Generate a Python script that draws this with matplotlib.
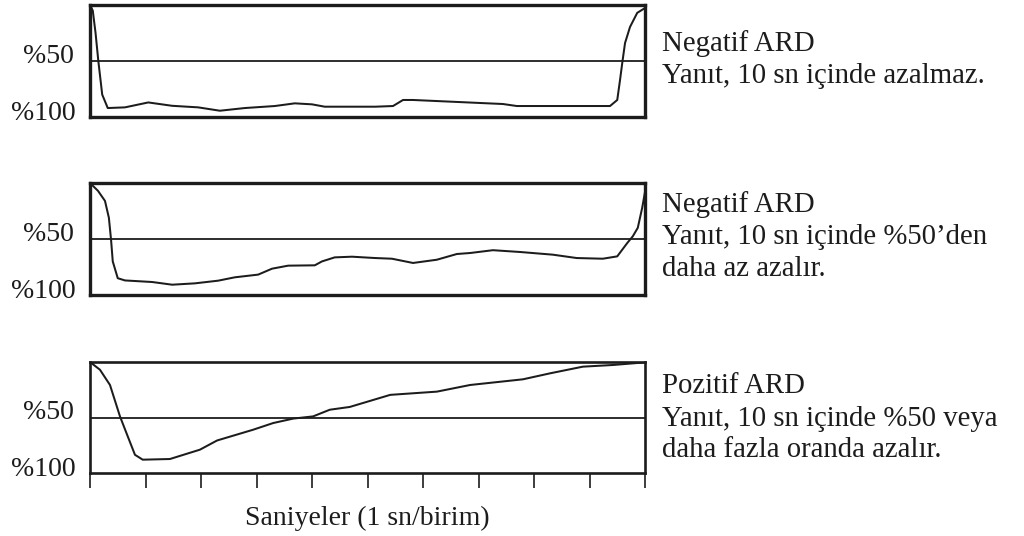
import matplotlib
matplotlib.use("Agg")
import matplotlib.pyplot as plt
import matplotlib.transforms as mtransforms

# ---- data (seconds, % decrease; 0 = top, 100 = bottom) ----
t1 = [0, 0.05, 0.1, 0.15, 0.22, 0.32, 0.63, 1.05, 1.48, 1.95, 2.34, 2.79, 3.33, 3.69,
      4.0, 4.23, 5.14, 5.46, 5.64, 5.82, 7.44, 7.69, 9.37, 9.50, 9.55, 9.59, 9.64,
      9.73, 9.86, 10.0]
v1 = [0, 5, 25, 50, 80, 92, 91.4, 87, 90, 91.4, 94.4, 92, 90.2, 87.8,
      88.7, 90.8, 90.8, 90.2, 84.8, 84.8, 88.4, 90.2, 90.2, 84.8, 67, 51.8, 34,
      19.6, 7, 2.7]

t2 = [0, 0.144, 0.27, 0.34, 0.38, 0.41, 0.50, 0.63, 1.12, 1.48, 1.89, 2.31, 2.61,
      3.03, 3.28, 3.57, 4.05, 4.18, 4.41, 4.72, 5.14, 5.44, 5.82, 6.25, 6.61, 6.85,
      7.26, 7.75, 8.34, 8.77, 9.24, 9.50, 9.68, 9.78, 9.87, 9.95, 10.0]
v2 = [0, 7, 16, 31, 51, 70, 85, 87, 88.4, 90.8, 89.6, 87.2, 84.2,
      81.8, 76.5, 73.8, 73.5, 70, 66.4, 65.8, 67, 67.6, 71.4, 68.5, 63.4, 62.5,
      60, 61.6, 64, 67, 67.6, 65.5, 53.6, 47.6, 40, 22, 8]

t3 = [0, 0.18, 0.36, 0.54, 0.68, 0.81, 0.95, 1.44, 1.98, 2.29, 2.94, 3.30, 3.66,
      4.02, 4.32, 4.68, 5.41, 6.25, 6.85, 7.80, 8.29, 8.88, 9.42, 9.96, 10.0]
v3 = [0, 7, 20.7, 49, 67, 83.6, 88, 87.4, 79, 70.7, 61, 55, 51,
      49, 43, 40.5, 29.6, 26.7, 20.7, 15.6, 10.2, 4.2, 2.7, 0.5, 0]

series_t = [t1, t2, t3]
series_v = [v1, v2, v3]

ylabels = ["%50", "%100"]
xticks = list(range(0, 11))
xlabel = "Saniyeler (1 sn/birim)"

descriptions = [
    ["Negatif ARD", "Yanıt, 10 sn içinde azalmaz."],
    ["Negatif ARD", "Yanıt, 10 sn içinde %50’den", "daha az azalır."],
    ["Pozitif ARD", "Yanıt, 10 sn içinde %50 veya", "daha fazla oranda azalır."],
]

# ---- layout ----
W, H = 1024, 536
plt.rcParams["font.family"] = ["Liberation Serif", "DejaVu Serif"]
FS = 20
FS_DESC = 20.7
INK = "#1c1c1c"

fig = plt.figure(figsize=(W / 100, H / 100), dpi=100)

# pixel boxes (left, top, right, bottom)
boxes = [(90, 5, 645, 117), (90, 183, 645, 295), (90, 362, 645, 473)]
spine_w = [2.4, 2.4, 1.9]
# text baselines (pixels) for the right-hand descriptions
baselines = [[51, 83], [212, 244, 276], [393, 426, 457]]

for i, (l, t, r, b) in enumerate(boxes):
    ax = fig.add_axes([l / W, 1 - b / H, (r - l) / W, (b - t) / H])
    ax.plot(series_t[i], series_v[i], color=INK, lw=1.45, solid_joinstyle="round")
    ax.axhline(50, color=INK, lw=1.3)
    ax.set_xlim(0, 10)
    ax.set_ylim(100, 0)
    ax.set_yticks([])
    for s in ax.spines.values():
        s.set_linewidth(spine_w[i])
        s.set_color(INK)
    # y labels
    trans = mtransforms.blended_transform_factory(ax.transAxes, ax.transData)
    ax.text(-0.029, 51.8, ylabels[0], transform=trans, ha="right", va="baseline",
            fontsize=FS, color=INK)
    ax.text(-0.025, 103.0, ylabels[1], transform=trans, ha="right", va="baseline",
            fontsize=FS, color=INK)
    if i < 2:
        ax.set_xticks([])
    else:
        ax.set_xticks(xticks)
        ax.set_xticklabels([])
        ax.tick_params(axis="x", direction="out", length=10.8, width=1.2, color=INK)
        ax.set_xlabel(xlabel, fontsize=FS, color=INK, labelpad=9)
    for line, yb in zip(descriptions[i], baselines[i]):
        fig.text(662 / W, 1 - yb / H, line, ha="left", va="baseline",
                 fontsize=FS_DESC, color=INK)

fig.savefig("out.png", dpi=100)
